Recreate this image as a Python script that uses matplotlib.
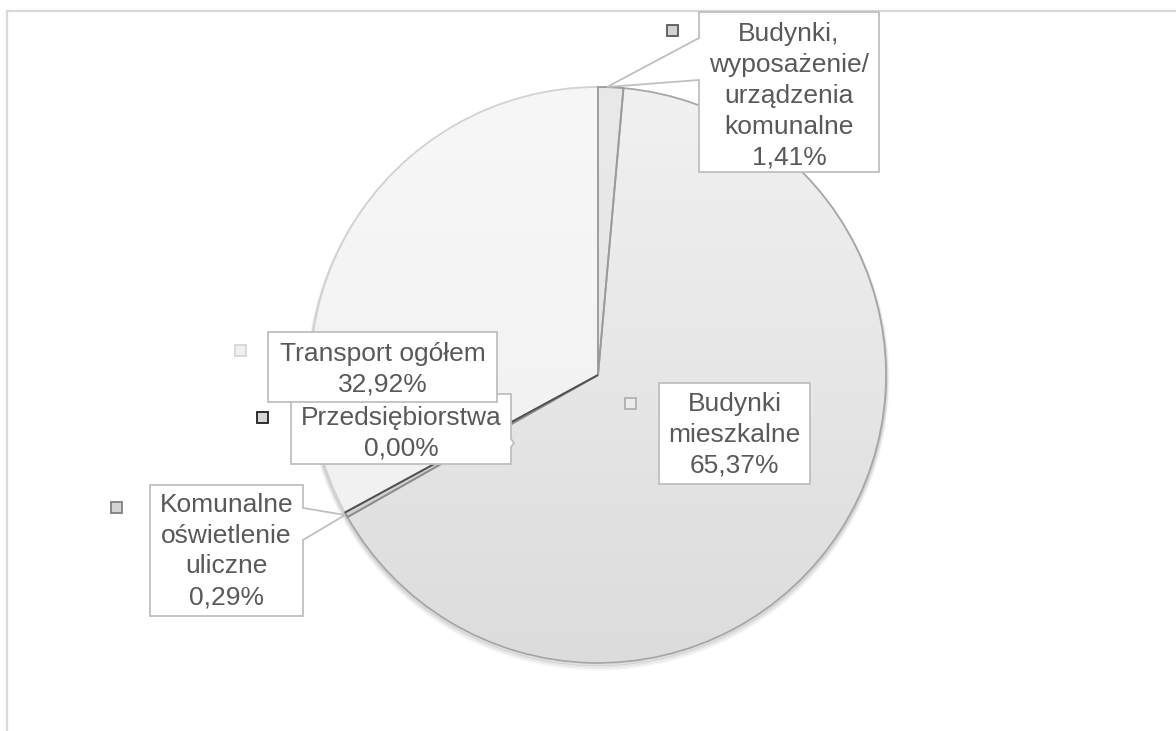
import numpy as np
import matplotlib.pyplot as plt
from matplotlib.patches import Polygon, Rectangle, Circle
from matplotlib.colors import LinearSegmentedColormap

# data
categories = ['Budynki,\nwyposażenie/\nurządzenia\nkomunalne',
              'Budynki\nmieszkalne',
              'Komunalne\noświetlenie\nuliczne',
              'Przedsiębiorstwa',
              'Transport ogółem']
shares = [1.41, 65.37, 0.29, 0.00, 32.92]

# slice styles (gradient top, gradient bottom, edge)
grad_top = ['#e9e9e9', '#f1f1f1', '#dadada', '#d0d0d0', '#f7f7f7']
grad_bot = ['#e2e2e2', '#dcdcdc', '#cfcfcf', '#c8c8c8', '#efefef']
edges = ['#9a9a9a', '#a6a6a6', '#8c8c8c', '#505050', '#d2d2d2']
key_fill = ['#d2d2d2', '#ececec', '#d4d4d4', '#d6d6d6', '#f0f0f0']
key_edge = ['#5a5a5a', '#b0b0b0', '#808080', '#202020', '#d6d6d6']

W, H = 1176, 731
CX, CY, R = 598, 375, 288


def fy(y):
    return H - y


def main():
    plt.rcParams['font.family'] = ['Liberation Sans', 'DejaVu Sans']
    fig = plt.figure(figsize=(11.76, 7.31), dpi=100)
    ax = fig.add_axes([0, 0, 1, 1])

    # soft shadow under the pie
    for k, a in zip(range(4), (0.12, 0.08, 0.05, 0.03)):
        ax.add_patch(Circle((CX, fy(CY) - 2 - k * 0.7), R + k * 0.8, fc='none',
                            ec='black', alpha=a, lw=1.6, zorder=1))

    wedges, _ = ax.pie(shares, startangle=90, counterclock=False,
                       center=(CX, fy(CY)), radius=R, frame=True,
                       wedgeprops=dict(linewidth=1.3))
    grad = np.linspace(0, 1, 256)[:, None]
    order = [1, 4, 0, 2, 3]
    for z, i in enumerate(order):
        w = wedges[i]
        w.set_facecolor('none')
        w.set_edgecolor(edges[i])
        w.set_zorder(3 + z * 0.1)
        cmap = LinearSegmentedColormap.from_list('g%d' % i, [grad_top[i], grad_bot[i]])
        im = ax.imshow(grad, extent=(CX - R, CX + R, fy(CY) - R, fy(CY) + R),
                       origin='upper', cmap=cmap, aspect='auto', zorder=2)
        im.set_clip_path(w)

    ax.set_xlim(0, W)
    ax.set_ylim(0, H)
    ax.set_aspect('equal')
    ax.axis('off')

    # chart area border (top and left visible)
    ax.plot([7, W], [fy(11), fy(11)], color='#d9d9d9', lw=1.6, zorder=1)
    ax.plot([7, 7], [fy(11), 0], color='#d9d9d9', lw=1.6, zorder=1)

    # label boxes: (x0, y0, x1, y1), text center y, key square center, callout, zorder
    boxes = [
        ((699, 12, 879, 172), 96, (672, 30), ('left', 38, 80, (607, 87)), 6),
        ((659, 383, 810, 484), 435, (630, 403), None, 6),
        ((150, 485, 303, 616), 551, (116, 507), ('right', 508, 540, (345, 515)), 6),
        ((291, 394, 511, 464), 433, (262, 417), ('right', 439, 447, (514, 443)), 6),
        ((268, 332, 497, 402), 369, (240, 350), None, 7),
    ]

    for i, (box, ty, key, call, zo) in enumerate(boxes):
        x0, y0, x1, y1 = box
        if call is None:
            pts = [(x0, y0), (x1, y0), (x1, y1), (x0, y1)]
        elif call[0] == 'left':
            _, wa, wb, tip = call
            pts = [(x0, y0), (x1, y0), (x1, y1), (x0, y1), (x0, wb), tip, (x0, wa)]
        else:
            _, wa, wb, tip = call
            pts = [(x0, y0), (x1, y0), (x1, wa), tip, (x1, wb), (x1, y1), (x0, y1)]
        pts = [(px, fy(py)) for px, py in pts]
        ax.add_patch(Polygon(pts, closed=True, fc='white', ec='#bfbfbf',
                             lw=1.3, zorder=zo))
        val = f"{shares[i]:.2f}".replace('.', ',')
        ax.text((x0 + x1) / 2, fy(ty), f"{categories[i]}\n{val}%",
                ha='center', va='center', fontsize=19, color='#595959',
                linespacing=1.36, zorder=zo + 0.5)
        s = 11
        ax.add_patch(Rectangle((key[0] - s / 2, fy(key[1]) - s / 2), s, s,
                               fc=key_fill[i], ec=key_edge[i], lw=1.3, zorder=zo))

    fig.savefig('out.png', dpi=100)


if __name__ == "__main__":
    main()
